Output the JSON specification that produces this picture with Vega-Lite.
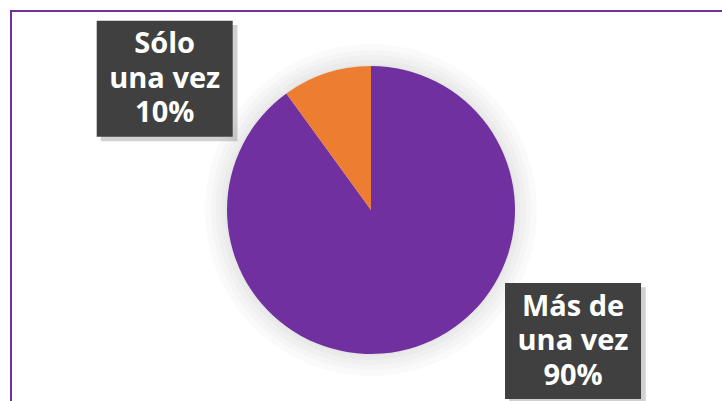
{
  "$schema": "https://vega.github.io/schema/vega-lite/v6.json",
  "width": 720,
  "height": 398,
  "autosize": {"type": "none"},
  "padding": {"left": 11, "top": 11, "right": 0, "bottom": 0},
  "background": "white",
  "view": {"stroke": "#7030A0", "strokeWidth": 2},
  "data": {"values": [
    {"cat": "Más de una vez", "pct": 90, "label": "Más de\nuna vez\n90%"},
    {"cat": "Sólo una vez", "pct": 10, "label": "Sólo\nuna vez\n10%"}
  ]},
  "layer": [
    {"mark": {"type": "arc", "radius": 166, "fill": "black", "opacity": 0.018}, "encoding": {"theta": {"field": "pct", "type": "quantitative", "stack": true}}},
    {"mark": {"type": "arc", "radius": 160, "fill": "black", "opacity": 0.018}, "encoding": {"theta": {"field": "pct", "type": "quantitative", "stack": true}}},
    {"mark": {"type": "arc", "radius": 155, "fill": "black", "opacity": 0.018}, "encoding": {"theta": {"field": "pct", "type": "quantitative", "stack": true}}},
    {"mark": {"type": "arc", "radius": 150, "fill": "black", "opacity": 0.018}, "encoding": {"theta": {"field": "pct", "type": "quantitative", "stack": true}}},
    {"mark": {"type": "arc", "radius": 146, "fill": "black", "opacity": 0.02}, "encoding": {"theta": {"field": "pct", "type": "quantitative", "stack": true}}},
    {
      "mark": {"type": "arc", "radius": 144},
      "encoding": {
        "theta": {"field": "pct", "type": "quantitative", "stack": true},
        "order": {"field": "pct", "sort": "descending"},
        "color": {"field": "cat", "type": "nominal", "scale": {"domain": ["Más de una vez", "Sólo una vez"], "range": ["#7030A0", "#ED7D31"]}, "legend": null}
      }
    },
    {
      "mark": {"type": "point", "shape": "M-0.94,-0.79H1.07V0.92H-0.94Z", "size": 18496, "filled": true, "fill": "#000000", "opacity": 0.18, "strokeWidth": 0},
      "encoding": {
        "x": {"field": "pct", "type": "quantitative", "scale": {"domain": [0, 100], "range": [102.66, 613.06]}, "axis": null},
        "y": {"field": "pct", "type": "quantitative", "scale": {"domain": [0, 100], "range": [34.91, 362.8]}, "axis": null}
      }
    },
    {
      "mark": {"type": "point", "shape": "M-1,-0.853H1V0.853H-1Z", "size": 18496, "filled": true, "fill": "#404040", "opacity": 1, "strokeWidth": 0},
      "encoding": {
        "x": {"field": "pct", "type": "quantitative", "scale": {"domain": [0, 100], "range": [102.66, 613.06]}, "axis": null},
        "y": {"field": "pct", "type": "quantitative", "scale": {"domain": [0, 100], "range": [34.91, 362.8]}, "axis": null}
      }
    },
    {
      "mark": {"type": "text", "lineBreak": "\n", "align": "center", "baseline": "middle", "dy": -34.5, "font": "Open Sans", "fontWeight": "bold", "fontSize": 29, "lineHeight": 34.5, "color": "white"},
      "encoding": {
        "x": {"field": "pct", "type": "quantitative", "scale": {"domain": [0, 100], "range": [102.66, 613.06]}, "axis": null},
        "y": {"field": "pct", "type": "quantitative", "scale": {"domain": [0, 100], "range": [34.91, 362.8]}, "axis": null},
        "text": {"field": "label", "type": "nominal"}
      }
    }
  ]
}
